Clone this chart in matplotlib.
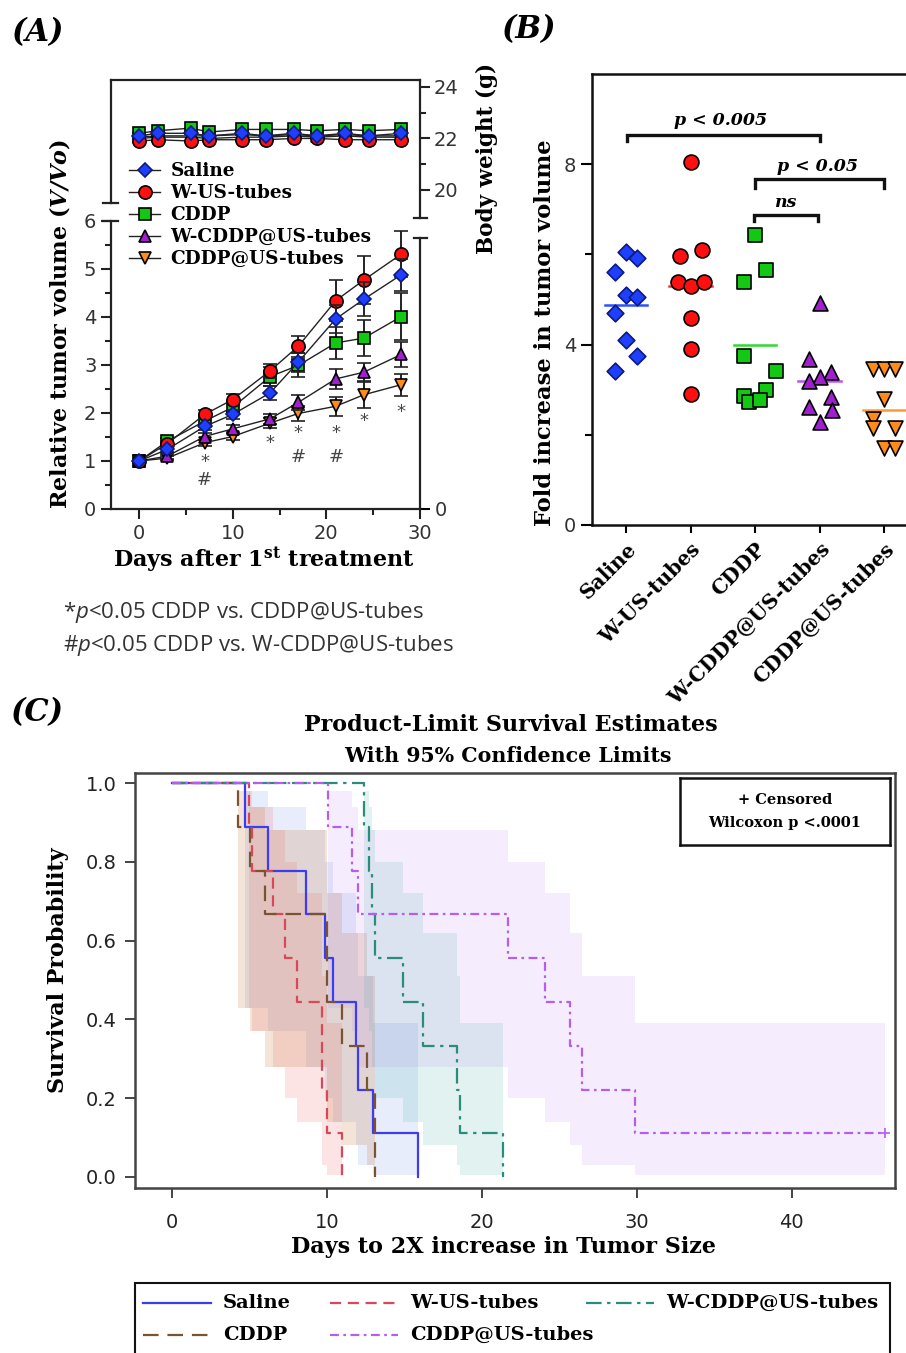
import numpy as np
import matplotlib
matplotlib.use("Agg")
import matplotlib.pyplot as plt
from matplotlib.lines import Line2D
from matplotlib.patches import Rectangle

# ---------- page geometry (pixels of the 906 x 1353 picture) ----------
W, H = 906, 1353


def fx(px):
    return px / W


def fy(py):
    return 1 - py / H


def rect(l, t, r, b):
    return [l / W, 1 - b / H, (r - l) / W, (b - t) / H]


plt.rcParams['mathtext.fontset'] = 'custom'
plt.rcParams['mathtext.rm'] = 'DejaVu Serif'
plt.rcParams['mathtext.bf'] = 'DejaVu Serif:bold'
plt.rcParams['mathtext.bfit'] = 'DejaVu Serif:italic:bold'
plt.rcParams['mathtext.it'] = 'Open Sans:italic'

SERIF = 'DejaVu Serif'
SANS = 'DejaVu Sans'
TICKC = '#333333'

# ---------- data ----------
groups = ['Saline', 'W-US-tubes', 'CDDP', 'W-CDDP@US-tubes', 'CDDP@US-tubes']

# (A) relative tumour volume
days = [0, 3, 7, 10, 14, 17, 21, 24, 28]
tv_saline = [1.0, 1.24, 1.72, 1.97, 2.42, 3.06, 3.96, 4.37, 4.88]
tv_wus = [1.0, 1.36, 1.97, 2.28, 2.88, 3.39, 4.34, 4.77, 5.31]
tv_cddp = [1.0, 1.41, 1.83, 2.12, 2.76, 2.99, 3.46, 3.56, 4.01]
tv_wcddp = [1.0, 1.10, 1.51, 1.67, 1.88, 2.22, 2.71, 2.85, 3.22]
tv_cddpus = [1.0, 1.06, 1.38, 1.51, 1.79, 1.99, 2.14, 2.38, 2.59]
err_saline = [0.0, 0.05, 0.08, 0.10, 0.15, 0.20, 0.30, 0.35, 0.33]
err_wus = [0.0, 0.06, 0.10, 0.12, 0.15, 0.22, 0.43, 0.50, 0.48]
err_cddp = [0.0, 0.06, 0.10, 0.10, 0.20, 0.25, 0.33, 0.38, 0.48]
err_wcddp = [0.0, 0.05, 0.07, 0.08, 0.10, 0.15, 0.20, 0.20, 0.26]
err_cddpus = [0.0, 0.04, 0.06, 0.07, 0.10, 0.15, 0.20, 0.28, 0.23]

# (A) body weight
bw_days = [0, 2, 5.5, 7.5, 11, 13.5, 16.5, 19, 22, 24.5, 28]
bw_saline = [22.1, 22.2, 22.2, 22.1, 22.2, 22.1, 22.2, 22.1, 22.2, 22.1, 22.2]
bw_wus = [21.9, 21.95, 21.9, 21.95, 21.95, 21.95, 22.0, 22.0, 21.95, 21.95, 21.95]
bw_cddp = [22.2, 22.3, 22.4, 22.25, 22.35, 22.35, 22.35, 22.3, 22.35, 22.3, 22.35]
bw_wcddp = [22.05, 22.1, 22.1, 22.1, 22.15, 22.1, 22.15, 22.1, 22.15, 22.1, 22.1]
bw_cddpus = [22.0, 22.05, 22.05, 22.0, 22.05, 22.05, 22.1, 22.05, 22.1, 22.05, 22.05]

# significance marks under the curves
sig_days = [7, 7, 14, 17, 17, 21, 21, 24, 28]
sig_y = [0.98, 0.6, 1.37, 1.58, 1.08, 1.58, 1.08, 1.83, 2.03]
sig_sym = ['*', '#', '*', '*', '#', '*', '#', '*', '*']

# (B) fold increase, individual animals
fold_saline = [6.06, 5.92, 5.6, 5.1, 5.05, 4.7, 4.1, 3.74, 3.41]
fold_wus = [8.04, 5.97, 6.1, 5.38, 5.29, 5.38, 4.59, 3.91, 2.9]
fold_cddp = [6.43, 5.66, 5.38, 3.74, 3.41, 2.99, 2.85, 2.72, 2.77]
fold_wcddp = [4.92, 3.69, 3.39, 3.28, 3.19, 2.84, 2.62, 2.54, 2.29]
fold_cddpus = [3.47, 3.47, 3.47, 2.8, 2.36, 2.14, 2.14, 1.7, 1.7]
off_saline = [0, 0.17, -0.17, 0, 0.17, -0.17, 0, 0.17, -0.17]
off_wus = [0, -0.17, 0.17, -0.2, 0, 0.2, 0, 0, 0]
off_cddp = [0, 0.17, -0.17, -0.17, 0.33, 0.17, -0.17, -0.1, 0.07]
off_wcddp = [0, -0.16, 0.17, 0, -0.16, 0.17, -0.16, 0.2, 0]
off_cddpus = [-0.17, 0, 0.17, 0, -0.17, -0.17, 0.17, 0, 0.17]
fold_means = [4.88, 5.29, 4.0, 3.19, 2.54]

# (C) Kaplan-Meier steps: event days and survival after each event
km_saline_t = [4.7, 6.2, 8.66, 9.9, 10.4, 11.9, 12.0, 12.97, 15.9]
km_saline_s = [0.889, 0.778, 0.667, 0.556, 0.444, 0.333, 0.222, 0.111, 0.0]
km_wus_t = [5.0, 5.15, 6.55, 7.3, 8.06, 9.68, 10.0, 10.97]
km_wus_s = [0.889, 0.778, 0.667, 0.556, 0.444, 0.222, 0.111, 0.0]
km_cddp_t = [4.3, 5.05, 6.0, 10.0, 10.97, 12.6, 13.1]
km_cddp_s = [0.889, 0.778, 0.667, 0.444, 0.333, 0.222, 0.0]
km_wcddp_t = [12.4, 12.7, 12.9, 13.1, 14.9, 16.2, 18.4, 18.6, 21.4]
km_wcddp_s = [0.889, 0.778, 0.667, 0.556, 0.444, 0.333, 0.222, 0.111, 0.0]
km_cddpus_t = [10.1, 11.6, 12.0, 21.7, 24.1, 25.7, 26.45, 29.9]
km_cddpus_s = [0.889, 0.778, 0.667, 0.556, 0.444, 0.333, 0.222, 0.111]
km_cddpus_end = 46.0  # censored

# 95% confidence limits read for each survival level
ci_level = [0.889, 0.778, 0.667, 0.556, 0.444, 0.333, 0.222, 0.111]
ci_lower = [0.43, 0.37, 0.28, 0.20, 0.14, 0.08, 0.03, 0.006]
ci_upper = [0.98, 0.94, 0.88, 0.80, 0.72, 0.62, 0.51, 0.39]

# ---------- styles ----------
mk = ['D', 'o', 's', '^', 'v']
mfc = ['#1f3fff', '#ff1010', '#12c812', '#a020d0', '#ff8c1a']
mec = ['#0c1a80', 'black', 'black', 'black', 'black']
msz = [7, 9.5, 8.5, 9, 9]

fig = plt.figure(figsize=(9.06, 13.53), dpi=100)

# ================= (A) =================
ax_bw = fig.add_axes(rect(111, 80, 420, 218))
ax_tv = fig.add_axes(rect(111, 221, 420, 509))

tv_all = [tv_saline, tv_wus, tv_cddp, tv_wcddp, tv_cddpus]
err_all = [err_saline, err_wus, err_cddp, err_wcddp, err_cddpus]
bw_all = [bw_saline, bw_wus, bw_cddp, bw_wcddp, bw_cddpus]

for i in [4, 3, 2, 1, 0]:
    ax_tv.errorbar(days, tv_all[i], yerr=err_all[i], color='#222222', lw=1,
                   marker=mk[i], ms=msz[i], mfc=mfc[i], mec=mec[i], mew=1.2,
                   ecolor='#222222', elinewidth=1.4, capsize=5, capthick=1.4,
                   zorder=3 + (4 - i))
    ax_bw.plot(bw_days, bw_all[i], color='#222222', lw=1, marker=mk[i],
               ms=msz[i], mfc=mfc[i], mec=mec[i], mew=1.2, zorder=3 + (4 - i))

for d, y, s in zip(sig_days, sig_y, sig_sym):
    ax_tv.text(d, y, s, ha='center', va='center', fontsize=13, family=SANS,
               color='#444444')

for ax in (ax_bw, ax_tv):
    ax.set_xlim(-3, 30)
    for sp in ax.spines.values():
        sp.set_linewidth(1.6)
        sp.set_color('#222222')

ax_bw.set_ylim(18.91, 24.27)
ax_bw.spines['bottom'].set_visible(False)
ax_bw.spines['left'].set_bounds(19.5, 24.27)
ax_bw.yaxis.set_ticks_position('right')
ax_bw.set_yticks([20, 22, 24])
ax_bw.set_yticks([21, 23], minor=True)
ax_bw.tick_params(axis='x', bottom=False, labelbottom=False)
ax_bw.tick_params(axis='y', which='both', direction='out', width=1.5,
                  colors='#222222', labelcolor=TICKC, labelsize=14, pad=3)
ax_bw.tick_params(axis='y', which='major', length=7)
ax_bw.tick_params(axis='y', which='minor', length=4)

ax_tv.set_ylim(0, 6)
ax_tv.spines['top'].set_visible(False)
ax_tv.spines['right'].set_visible(False)
ax_tv.set_xticks([0, 10, 20, 30])
ax_tv.set_xticks([5, 15, 25], minor=True)
ax_tv.set_yticks(range(7))
ax_tv.set_yticks(np.arange(0.5, 6, 1.0), minor=True)
ax_tv.tick_params(which='both', direction='out', width=1.5, colors='#222222',
                  labelcolor=TICKC, labelsize=14)
ax_tv.tick_params(which='major', length=7)
ax_tv.tick_params(which='minor', length=4)
for lab in ax_tv.get_xticklabels() + ax_tv.get_yticklabels():
    lab.set_family(SANS)

ax_r = ax_tv.twinx()
ax_r.set_ylim(0, 6)
ax_r.set_yticks([0])
for side in ['left', 'top', 'bottom']:
    ax_r.spines[side].set_visible(False)
ax_r.spines['right'].set_bounds(0, 5.65)
ax_r.spines['right'].set_linewidth(1.6)
ax_r.spines['right'].set_color('#222222')
ax_r.tick_params(direction='out', length=7, width=1.5, labelsize=14,
                 labelcolor=TICKC)

# axis break marks
ax_tv.plot([-3.85, -2.2], [6, 6], color='#222222', lw=1.6, clip_on=False)
ax_tv.plot([29.35, 30.75], [5.65, 5.65], color='#222222', lw=1.6, clip_on=False)
ax_bw.plot([-3.85, -2.2], [19.5, 19.5], color='#222222', lw=1.6, clip_on=False)
ax_bw.plot([29.35, 30.75], [18.91, 18.91], color='#222222', lw=1.6, clip_on=False)

fig.text(fx(60), fy(324), r'Relative tumor volume ($\mathbfit{V/Vo}$)',
         rotation=90, ha='center', va='center', family=SERIF,
         fontweight='bold', fontsize=16)
fig.text(fx(487), fy(158), 'Body weight (g)', rotation=90, ha='center',
         va='center', family=SERIF, fontweight='bold', fontsize=15.5)
fig.text(fx(264), fy(560), r'Days after 1$^{\mathbf{st}}$ treatment',
         ha='center', va='center', family=SERIF, fontweight='bold',
         fontsize=16)

handles_a = [Line2D([], [], color='#222222', lw=1, marker=mk[i], ms=msz[i],
                    mfc=mfc[i], mec=mec[i], mew=1.2) for i in range(5)]
fig.legend(handles_a, groups, loc='upper left',
           bbox_to_anchor=(fx(129), fy(162)), frameon=False,
           prop={'family': SERIF, 'weight': 'bold', 'size': 13.3},
           handlelength=1.7, handletextpad=0.55, labelspacing=0.22,
           borderpad=0, borderaxespad=0)

fig.text(fx(63), fy(612), r'*$\mathit{p}$<0.05 CDDP vs. CDDP@US-tubes',
         ha='left', va='center', family='Open Sans', fontsize=16,
         color=TICKC)
fig.text(fx(63), fy(645), r'#$\mathit{p}$<0.05 CDDP vs. W-CDDP@US-tubes',
         ha='left', va='center', family='Open Sans', fontsize=16,
         color=TICKC)

# ================= (B) =================
ax_b = fig.add_axes(rect(592, 74, 906, 525))
fold_all = [fold_saline, fold_wus, fold_cddp, fold_wcddp, fold_cddpus]
off_all = [off_saline, off_wus, off_cddp, off_wcddp, off_cddpus]
ssz = [72, 115, 100, 115, 115]
for i in range(5):
    ax_b.scatter(i + np.array(off_all[i]), fold_all[i], marker=mk[i],
                 s=ssz[i], c=mfc[i], edgecolors=mec[i], linewidths=1.2,
                 zorder=3)
mean_col = ['#3050ff', '#ff3030', '#30d830', '#c050ff', '#ff9a30']
for i in range(5):
    ax_b.plot([i - 0.33, i + 0.33], [fold_means[i]] * 2, color=mean_col[i],
              lw=1.8, zorder=2)

ax_b.set_xlim(-0.53, 4.34)
ax_b.set_ylim(0, 10)
ax_b.spines['right'].set_visible(False)
for sp in ['left', 'bottom', 'top']:
    ax_b.spines[sp].set_linewidth(1.8)
    ax_b.spines[sp].set_color('#111111')
ax_b.set_yticks([0, 4, 8])
ax_b.set_yticks([2, 6], minor=True)
ax_b.set_xticks(range(5))
ax_b.set_xticklabels(groups, rotation=45, ha='right', va='top',
                     rotation_mode='anchor', family=SERIF, fontweight='bold',
                     fontsize=14.5)
ax_b.tick_params(axis='y', which='both', direction='out', width=1.5,
                 labelsize=14, labelcolor=TICKC)
ax_b.tick_params(axis='y', which='major', length=8)
ax_b.tick_params(axis='y', which='minor', length=5)
ax_b.tick_params(axis='x', direction='out', length=6, width=1.5, pad=4)

brackets = [(0.02, 3.0, 8.65, 8.52, 1.46, 8.98, 'p < 0.005'),
            (2.0, 4.0, 7.67, 7.48, 2.96, 7.96, 'p < 0.05'),
            (1.98, 2.97, 6.88, 6.75, 2.47, 7.16, 'ns')]
for x0, x1, yh, yl, tx, ty, lab in brackets:
    ax_b.plot([x0, x0, x1, x1], [yl, yh, yh, yl], color='#111111', lw=2.4,
              solid_joinstyle='miter')
    ax_b.text(tx, ty, lab, ha='center', va='center', family=SERIF,
              fontweight='bold', fontstyle='italic', fontsize=12.5)

fig.text(fx(545), fy(333), 'Fold increase in tumor volume', rotation=90,
         ha='center', va='center', family=SERIF, fontweight='bold',
         fontsize=16.3)

# ================= (C) =================
ax_c = fig.add_axes(rect(135, 773, 895, 1188))
km_t = [km_saline_t, km_wus_t, km_cddp_t, km_wcddp_t, km_cddpus_t]
km_s = [km_saline_s, km_wus_s, km_cddp_s, km_wcddp_s, km_cddpus_s]
km_end = [None, None, None, None, km_cddpus_end]
line_col = ['#3c3cf5', '#d8485a', '#7a5430', '#2a8c7c', '#b45ef0']
band_col = ['#4070e0', '#f05050', '#c87838', '#20a090', '#b070f0']
band_a = [0.12, 0.15, 0.2, 0.13, 0.12]
dashes = [None, (5, 3), (7, 4), (7, 2.5, 1.5, 2.5), (4, 2, 1.2, 2)]
ci_lo = dict(zip(ci_level, ci_lower))
ci_hi = dict(zip(ci_level, ci_upper))

for i in range(5):
    t, s = km_t[i], km_s[i]
    for k in range(len(t)):
        if s[k] <= 0:
            continue
        x1 = t[k + 1] if k + 1 < len(t) else km_end[i]
        ax_c.fill_between([t[k], x1], ci_lo[s[k]], ci_hi[s[k]],
                          color=band_col[i], alpha=band_a[i], lw=0, zorder=1)

for i in range(5):
    x = [0.0] + km_t[i]
    y = [1.0] + km_s[i]
    if km_end[i] is not None:
        x.append(km_end[i])
        y.append(y[-1])
    ln, = ax_c.step(x, y, where='post', color=line_col[i], lw=1.6, zorder=3)
    if dashes[i] is not None:
        ln.set_dashes(dashes[i])
ax_c.plot([km_cddpus_end], [km_cddpus_s[-1]], marker='+', ms=7,
          color=line_col[4], mew=1.2, zorder=4)

ax_c.set_xlim(-2.37, 46.66)
ax_c.set_ylim(-0.028, 1.026)
ax_c.set_xticks([0, 10, 20, 30, 40])
ax_c.set_yticks([0, 0.2, 0.4, 0.6, 0.8, 1.0])
ax_c.set_yticklabels(['0.0', '0.2', '0.4', '0.6', '0.8', '1.0'])
ax_c.tick_params(direction='out', length=7, width=1.4, colors='#444444',
                 labelcolor='#222222', labelsize=14)
ax_c.tick_params(axis='x', pad=11)
ax_c.tick_params(axis='y', pad=6)
for sp in ax_c.spines.values():
    sp.set_linewidth(1.8)
    sp.set_color('#444444')

fig.text(fx(511), fy(725), 'Product-Limit Survival Estimates', ha='center',
         va='center', family=SERIF, fontweight='bold', fontsize=16)
fig.text(fx(508), fy(756), 'With 95% Confidence Limits', ha='center',
         va='center', family=SERIF, fontweight='bold', fontsize=14.8)
fig.text(fx(504), fy(1247), 'Days to 2X increase in Tumor Size', ha='center',
         va='center', family=SERIF, fontweight='bold', fontsize=16)
fig.text(fx(58), fy(970), 'Survival Probability', rotation=90, ha='center',
         va='center', family=SERIF, fontweight='bold', fontsize=16)

ax_in = fig.add_axes(rect(680, 778, 890, 845))
ax_in.set_xticks([])
ax_in.set_yticks([])
for sp in ax_in.spines.values():
    sp.set_linewidth(1.8)
    sp.set_color('#111111')
ax_in.text(0.5, 0.67, '+ Censored', ha='center', va='center',
           transform=ax_in.transAxes, family=SERIF, fontweight='bold',
           fontsize=10.5)
ax_in.text(0.5, 0.33, 'Wilcoxon p <.0001', ha='center', va='center',
           transform=ax_in.transAxes, family=SERIF, fontweight='bold',
           fontsize=10.5)

# legend of (C), laid out as in the picture (box runs off the bottom edge)
fig.add_artist(Rectangle((fx(135), fy(1375)), fx(890) - fx(135),
                         fy(1283) - fy(1375), transform=fig.transFigure,
                         fill=False, edgecolor='#111111', lw=1.5))
leg_pos = {0: (143, 1303), 1: (330, 1303), 3: (586, 1303),
           2: (143, 1335), 4: (330, 1335)}
for i, (lx, ly) in leg_pos.items():
    h = Line2D([fx(lx), fx(lx + 68)], [fy(ly), fy(ly)],
               transform=fig.transFigure, color=line_col[i], lw=1.6)
    if dashes[i] is not None:
        h.set_dashes(dashes[i])
    fig.add_artist(h)
    fig.text(fx(lx + 80), fy(ly), groups[i], ha='left', va='center',
             family=SERIF, fontweight='bold', fontsize=14)

# ---------- panel letters ----------
for px, py, lab in [(37, 33, '(A)'), (528, 30, '(B)'), (37, 713, '(C)')]:
    fig.text(fx(px), fy(py), lab, ha='center', va='center', family=SERIF,
             fontweight='bold', fontstyle='italic', fontsize=22)

fig.savefig('out.png', dpi=100)
